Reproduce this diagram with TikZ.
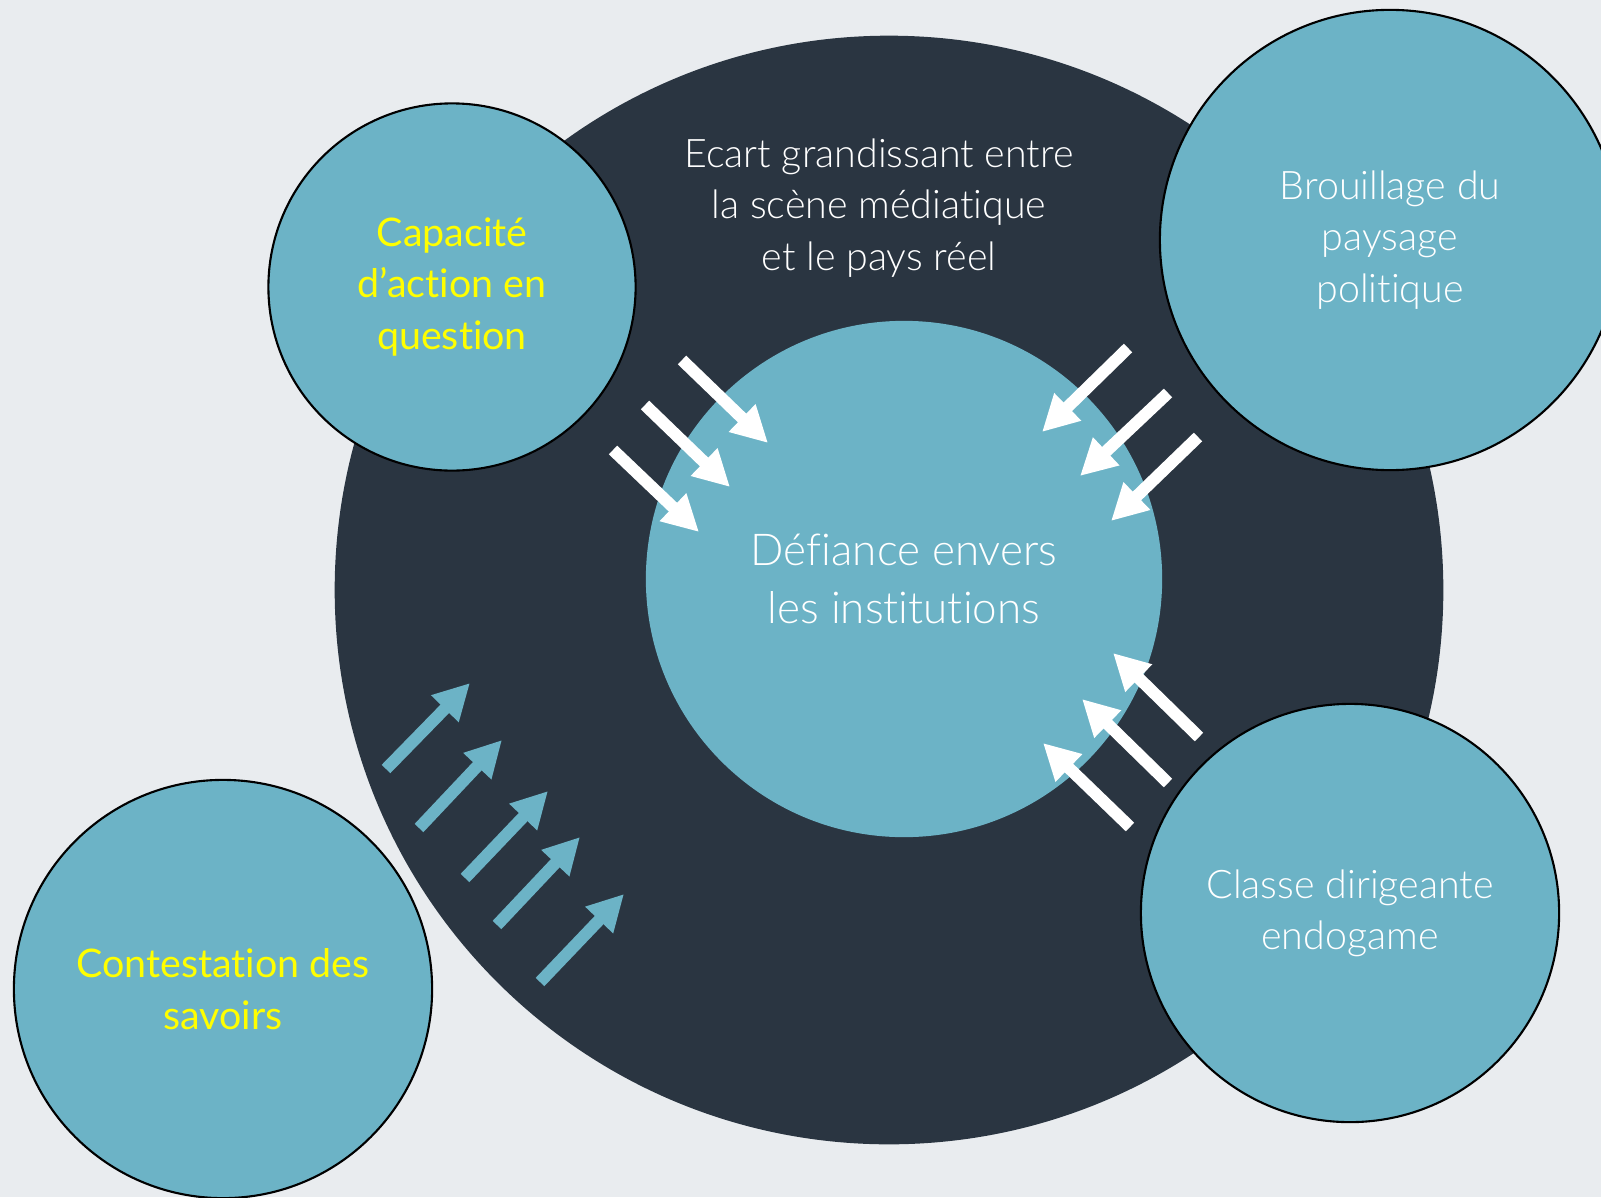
\documentclass[tikz,border=0pt]{standalone}
\usepackage{fontspec}
\setmainfont{Lato Light}[Ligatures=NoCommon]
\newfontfamily\latoreg{Lato}[Ligatures=NoCommon]
\usetikzlibrary{arrows.meta,positioning}
\definecolor{bgcol}{HTML}{E9ECEF}
\definecolor{ringcol}{HTML}{2A3541}
\definecolor{tealcol}{HTML}{6CB3C6}
\definecolor{yelcol}{HTML}{FFFF00}

\begin{document}
\begin{tikzpicture}[%
        x=0.01cm, y=-0.01cm,
        every node/.style={circle, inner sep=0pt, align=center, text=white,
          font=\fontsize{11.2}{14.6}\selectfont},
        bubble/.style={fill=tealcol, draw=black, line width=0.6pt},
        yeltext/.style={text=yelcol, font=\latoreg\fontsize{11.2}{14.6}\selectfont},
        whitearrow/.style={draw=white, line width=0.12cm,
          -{Triangle[width=0.36cm,length=0.36cm]}},
        tealarrow/.style={whitearrow, draw=tealcol}
      ]
      \useasboundingbox (0,0) rectangle (1601,1197);
      \clip (0,0) rectangle (1601,1197);
      \fill [bgcol] (0,0) rectangle (1601,1197);
      % big ring and centre
      \node [fill=ringcol, minimum size=11.08cm] (ring) at (889,590) {};
      \node [fill=tealcol, minimum size=5.16cm,
        font=\fontsize{12.5}{16.5}\selectfont] (defi) at (904,579)
        {Défiance envers\\les institutions};
      \node [circle=false, rectangle] (ecart) at (879,208)
        {Ecart grandissant entre\\la scène médiatique\\et le pays réel};
      % outer bubbles
      \node [bubble, minimum size=3.67cm, yeltext] (cap) at (452,287)
        {Capacité\\d’action en\\question};
      \node [bubble, minimum size=4.6cm] (brou) at (1390,240)
        {Brouillage du\\paysage\\politique};
      \node [bubble, minimum size=4.18cm] (classe) at (1350,913)
        {Classe dirigeante\\endogame};
      \node [bubble, minimum size=4.18cm, yeltext] (contest) at (223,989)
        {Contestation des\\savoirs};
      % arrows
      \foreach \ax/\ay/\bx/\by in {682/360/768/443, 645/405/730/487, 613/450/699/532,
          1128/348/1042/432, 1168/393/1080/476, 1198/437/1111/521,
          1199/737/1113/653, 1168/783/1082/699, 1130/827/1043/743}
        \draw [whitearrow] (\ax,\ay) -- (\bx,\by);
      \foreach \ax/\ay/\bx/\by in {386/769/470/683, 419/828/502/740, 465/878/548/791,
          497/925/580/837, 540/982/624/894}
        \draw [tealarrow] (\ax,\ay) -- (\bx,\by);
    \end{tikzpicture}
\end{document}
